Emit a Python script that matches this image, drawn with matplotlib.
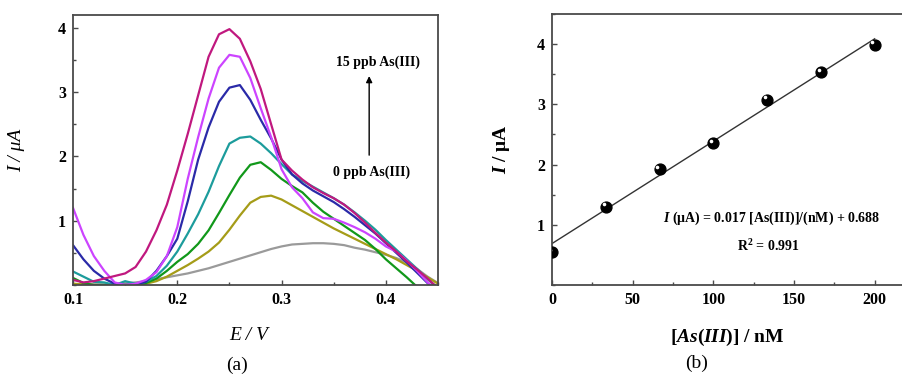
import numpy as np
import matplotlib
matplotlib.use("Agg")
import matplotlib.pyplot as plt
import matplotlib.transforms as mtransforms
from matplotlib.ticker import MultipleLocator

plt.rcParams['font.family'] = ['Liberation Serif', 'DejaVu Serif']
plt.rcParams['font.weight'] = 'bold'
plt.rcParams['mathtext.fontset'] = 'custom'
plt.rcParams['mathtext.rm'] = 'Liberation Serif:bold'
plt.rcParams['mathtext.it'] = 'Liberation Serif:italic:bold'
plt.rcParams['mathtext.bf'] = 'Liberation Serif:bold'

# (a) voltammogramme, 0 -> 15 ppb As(III)
potential = [0.10, 0.11, 0.12, 0.13, 0.14, 0.15, 0.16, 0.17, 0.18, 0.19,
             0.20, 0.21, 0.22, 0.23, 0.24, 0.25, 0.26, 0.27, 0.28, 0.29,
             0.30, 0.31, 0.32, 0.33, 0.34, 0.35, 0.36, 0.37, 0.38, 0.39,
             0.40, 0.41, 0.42, 0.43, 0.44, 0.45]

i_gray = [0.01, 0.01, 0.01, 0.01, 0.02, 0.03, 0.04, 0.06, 0.09, 0.12,
          0.15, 0.18, 0.22, 0.26, 0.31, 0.36, 0.41, 0.46, 0.51, 0.56,
          0.60, 0.63, 0.64, 0.65, 0.65, 0.64, 0.62, 0.58, 0.55, 0.51,
          0.47, 0.42, 0.35, 0.25, 0.13, 0.03]
i_olive = [0.02, 0.01, 0.00, 0.00, 0.00, 0.00, 0.00, 0.02, 0.06, 0.13,
           0.22, 0.31, 0.41, 0.52, 0.66, 0.86, 1.08, 1.28, 1.37, 1.39,
           1.33, 1.24, 1.15, 1.06, 0.97, 0.88, 0.80, 0.72, 0.64, 0.56,
           0.48, 0.40, 0.31, 0.22, 0.12, 0.02]
i_green = [0.11, 0.03, 0.00, 0.00, 0.00, 0.00, 0.00, 0.03, 0.10, 0.22,
           0.36, 0.48, 0.64, 0.85, 1.12, 1.40, 1.67, 1.87, 1.91, 1.79,
           1.65, 1.54, 1.44, 1.28, 1.14, 1.03, 0.92, 0.81, 0.70, 0.56,
           0.40, 0.26, 0.12, -0.03, -0.20, -0.30]
i_teal = [0.21, 0.13, 0.05, 0.04, 0.00, 0.06, 0.02, 0.05, 0.14, 0.30,
          0.52, 0.80, 1.10, 1.45, 1.85, 2.20, 2.29, 2.31, 2.20, 2.05,
          1.88, 1.72, 1.62, 1.53, 1.44, 1.35, 1.25, 1.13, 1.00, 0.86,
          0.70, 0.55, 0.40, 0.25, 0.09, -0.05]
i_blue = [0.62, 0.40, 0.22, 0.10, 0.02, 0.00, 0.01, 0.05, 0.22, 0.45,
          0.72, 1.30, 1.95, 2.45, 2.85, 3.07, 3.11, 2.88, 2.57, 2.28,
          1.95, 1.72, 1.58, 1.47, 1.38, 1.29, 1.18, 1.06, 0.93, 0.80,
          0.65, 0.50, 0.35, 0.19, 0.03, -0.10]
i_violet = [1.20, 0.78, 0.45, 0.22, 0.04, 0.00, 0.02, 0.08, 0.20, 0.45,
            0.90, 1.65, 2.30, 2.90, 3.38, 3.58, 3.55, 3.22, 2.75, 2.30,
            1.80, 1.52, 1.35, 1.13, 1.04, 1.03, 0.97, 0.90, 0.82, 0.72,
            0.60, 0.52, 0.38, 0.22, 0.04, -0.10]
i_magenta = [0.08, 0.04, 0.06, 0.10, 0.14, 0.18, 0.28, 0.52, 0.85, 1.25,
             1.78, 2.35, 2.95, 3.55, 3.90, 3.98, 3.83, 3.48, 3.05, 2.50,
             1.95, 1.78, 1.64, 1.52, 1.43, 1.35, 1.25, 1.12, 0.97, 0.81,
             0.66, 0.52, 0.37, 0.24, 0.10, -0.05]

curves = [i_gray, i_olive, i_green, i_teal, i_blue, i_violet, i_magenta]
colors = ['#9a9a9a', '#a59c18', '#11981a', '#1c9c9c', '#2a2aa8', '#cc44ff', '#c0187f']
e_ticks = [0.1, 0.2, 0.3, 0.4]

# (b) calibration
conc = [0, 33.3, 66.7, 100, 133.3, 166.7, 200]
peak_i = [0.55, 1.30, 1.92, 2.36, 3.08, 3.54, 3.99]
slope, intercept = 0.017, 0.688

fig = plt.figure(figsize=(9.03, 3.78), dpi=100)
spine_c = '#4a4a4a'

def style(ax):
    for s in ax.spines.values():
        s.set_color(spine_c)
        s.set_linewidth(1.3)
    ax.tick_params(which='both', direction='in', top=False, right=False,
                   color=spine_c, labelsize=11.5, pad=5)
    ax.tick_params(which='major', length=3.5, width=1)
    ax.tick_params(which='minor', length=2.5, width=1)

# ---- panel (a)
ax1 = fig.add_axes([73 / 903, 93 / 378, 365 / 903, 270 / 378])
for y, c in zip(curves, colors):
    ax1.plot(potential, y, color=c, lw=1.6)
ax1.set_xlim(0.1, 0.45)
ax1.set_ylim(0, 4.2)
ax1.set_xticks(e_ticks)
ax1.set_xticklabels([f'{v:.1f}' for v in e_ticks])
ax1.xaxis.set_minor_locator(MultipleLocator(0.05))
ax1.set_yticks([1, 2, 3, 4])
ax1.yaxis.set_minor_locator(MultipleLocator(0.5))
style(ax1)
ax1.set_xlabel('E / V', fontsize=14, fontstyle='italic', fontweight='normal')
ax1.set_ylabel('I / μA', fontsize=14, fontstyle='italic', fontweight='normal')
ax1.xaxis.set_label_coords(0.48, -0.155)
ax1.yaxis.set_label_coords(-0.132, 0.5)

ax1.annotate('', xy=(0.384, 3.25), xytext=(0.384, 2.02),
             arrowprops=dict(arrowstyle='-|>', color='black', lw=1.0,
                             mutation_scale=9, shrinkA=0, shrinkB=0))
ax1.text(0.392, 3.47, '15 ppb As(III)', ha='center', va='center', fontsize=10)
ax1.text(0.386, 1.76, '0 ppb As(III)', ha='center', va='center', fontsize=10)

# ---- panel (b)
ax2 = fig.add_axes([552 / 903, 93 / 378, 363 / 903, 271 / 378])
xfit = np.array([0, 200])
ax2.plot(xfit, slope * xfit + intercept, color='#333333', lw=1.0)
ax2.plot(conc, peak_i, 'o', color='black', ms=7.8, zorder=3)
hl = ax2.transData + mtransforms.ScaledTranslation(-1.6 / 72, 1.6 / 72, fig.dpi_scale_trans)
ax2.plot(conc, peak_i, 'o', color='white', ms=2.6, mew=0, zorder=4, transform=hl)
ax2.set_xlim(0, 225)
ax2.set_ylim(0, 4.5)
ax2.xaxis.set_major_locator(MultipleLocator(50))
ax2.xaxis.set_minor_locator(MultipleLocator(25))
ax2.set_yticks([1, 2, 3, 4])
ax2.yaxis.set_minor_locator(MultipleLocator(0.5))
style(ax2)
ax2.set_xlabel(r'$[As(III)]$ / nM', fontsize=14, fontweight='bold')
ax2.set_ylabel(r'$I$ / μA', fontsize=14, fontweight='bold')
ax2.xaxis.set_label_coords(0.483, -0.155)
ax2.yaxis.set_label_coords(-0.11, 0.5)
ax2.text(136, 1.1, r'$I$ (μA) = 0.017 [As(III)]/(nM) + 0.688',
         ha='center', va='center', fontsize=10)
ax2.text(134, 0.65, r'R$^{2}$ = 0.991', ha='center', va='center', fontsize=10)

fig.text(237 / 903, 1 - 365 / 378, '(a)', ha='center', va='center',
         fontsize=14, fontweight='normal')
fig.text(697 / 903, 1 - 363 / 378, '(b)', ha='center', va='center',
         fontsize=14, fontweight='normal')

fig.savefig('out.png', dpi=100)
